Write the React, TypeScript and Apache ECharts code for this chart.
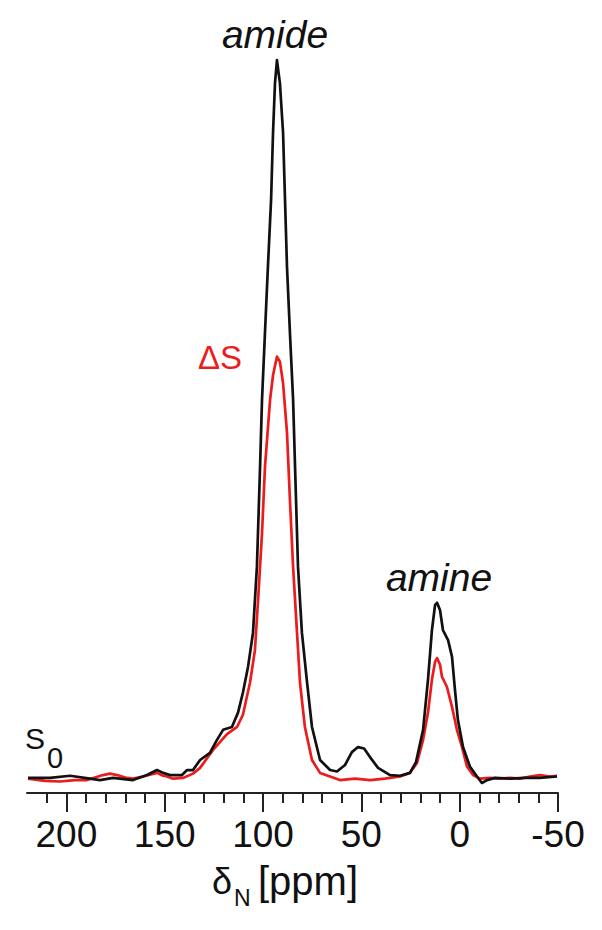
import React, { useEffect, useRef } from "react";
import * as echarts from "echarts";

// Chemical shift (ppm) and intensity (arb. units, amide peak of S0 = 100)
const S0_PPM = [219.5, 208.3, 198.1, 188.0, 182.9, 176.3, 166.1, 159.0, 153.9, 150.8, 147.3, 141.2, 138.6, 135.6, 132.0, 127.0, 123.4, 120.3, 115.8, 112.7, 110.2, 107.6, 105.1, 103.1, 101.5, 100.5, 99.0, 97.5, 95.9, 94.9, 93.9, 92.9, 91.4, 89.8, 88.8, 87.8, 86.3, 84.7, 83.7, 82.2, 80.2, 77.6, 75.1, 71.0, 65.9, 62.4, 58.3, 54.8, 51.7, 48.6, 45.6, 41.5, 35.4, 30.3, 25.3, 22.2, 18.6, 16.1, 14.1, 12.5, 11.5, 10.0, 8.5, 5.9, 3.9, 2.4, 0.9, -1.7, -5.2, -8.8, -11.3, -13.9, -18.0, -25.6, -33.2, -40.8, -49.5];
const S0_INT = [-0.3, -0.3, 0, -0.4, -0.6, -0.3, -0.6, 0.1, 0.8, 0.4, 0.1, 0.1, 0.8, 0.8, 2.2, 3.2, 5.0, 6.4, 6.8, 8.8, 11.6, 15.2, 19.9, 29.1, 43.0, 52.4, 61.7, 70.9, 80.2, 89.6, 96.5, 99.7, 96.5, 89.6, 80.2, 70.9, 61.7, 52.4, 43.0, 29.1, 19.9, 13.0, 6.8, 2.2, 0.8, 0.6, 1.5, 3.3, 4.0, 3.8, 2.6, 1.1, 0.1, 0, 0.4, 1.9, 6.4, 13.4, 20.3, 23.8, 24.1, 23.1, 20.3, 18.9, 16.6, 12.0, 7.8, 4.0, 1.3, -0.1, -1.0, -0.6, -0.3, -0.4, -0.3, -0.3, -0.1];

const DS_PPM = [219.5, 210.8, 203.2, 195.6, 189.5, 181.4, 177.8, 174.2, 169.2, 166.1, 161.0, 153.9, 150.8, 148.8, 145.8, 140.7, 135.6, 132.0, 125.4, 118.3, 113.2, 110.2, 106.6, 104.1, 102.5, 100.5, 99.0, 96.4, 94.9, 92.9, 91.4, 89.8, 87.8, 86.3, 84.7, 82.7, 81.2, 78.7, 75.1, 71.0, 65.9, 60.9, 53.2, 45.6, 38.0, 30.3, 25.3, 21.7, 18.6, 16.1, 14.1, 12.5, 11.5, 10.0, 9.0, 6.5, 3.9, 1.4, -1.2, -3.7, -6.8, -10.3, -15.4, -20.5, -25.6, -30.7, -35.8, -40.8, -45.9, -49.5];
const DS_INT = [-0.4, -0.7, -0.8, -0.6, -0.6, 0.1, 0.3, 0.1, -0.3, -0.4, -0.1, 0.4, 0, -0.1, -0.4, -0.3, 0.3, 1.1, 3.6, 5.8, 6.8, 8.5, 13.0, 17.5, 24.5, 33.8, 43.0, 52.4, 55.8, 58.4, 57.7, 54.7, 47.8, 38.4, 29.1, 19.9, 13.0, 6.8, 2.2, 0.4, -0.1, -0.6, -0.4, -0.6, -0.4, -0.1, 0.4, 1.8, 5.0, 8.8, 13.4, 15.9, 16.4, 15.5, 13.8, 12.4, 9.6, 6.4, 4.0, 1.3, 0.1, -0.4, -0.3, -0.4, -0.3, -0.4, -0.1, 0.1, -0.1, 0];

const TICK_LABELS = [200, 150, 100, 50, 0, -50];
const MINOR_TICKS = [210, 190, 180, 170, 160, 140, 130, 120, 110, 90, 80, 70, 60, 40, 30, 20, 10, -10, -20, -30, -40];

const FONT = "'Liberation Sans', Arial, Helvetica, sans-serif";
const BLACK = "#111111";
const RED = "#ec1c1c";

export default function App() {
  const ref = useRef<HTMLDivElement>(null);
  useEffect(() => {
    if (!ref.current) return;
    const chart = echarts.init(ref.current, undefined, { renderer: "svg" });
    const s0 = S0_PPM.map((p, i) => [p, S0_INT[i]]);
    const ds = DS_PPM.map((p, i) => [p, DS_INT[i]]);
    chart.setOption({
      animation: false,
      backgroundColor: "#ffffff",
      grid: { left: 27, right: 44, top: 58, bottom: 137, containLabel: false, outerBoundsMode: "none" },
      xAxis: [
        {
          type: "value",
          min: -50,
          max: 220,
          inverse: true,
          position: "bottom",
          axisLine: { show: true, onZero: false, lineStyle: { color: "#222", width: 2 } },
          axisTick: { show: true, customValues: TICK_LABELS, length: 19, lineStyle: { color: "#222", width: 2 } },
          axisLabel: { customValues: TICK_LABELS, fontSize: 37, color: BLACK, fontFamily: FONT, margin: 23 },
          splitLine: { show: false },
        },
        {
          type: "value",
          min: -50,
          max: 220,
          inverse: true,
          position: "bottom",
          axisLine: { show: false, onZero: false },
          axisTick: { show: true, customValues: MINOR_TICKS, length: 10, lineStyle: { color: "#222", width: 2 } },
          axisLabel: { show: false },
          splitLine: { show: false },
        },
      ],
      yAxis: { type: "value", min: -2.4, max: 100, show: false, splitLine: { show: false } },
      series: [
        {
          name: "ΔS",
          type: "line",
          xAxisIndex: 0,
          data: ds,
          showSymbol: false,
          lineStyle: { color: RED, width: 2.7, join: "round" },
          itemStyle: { color: RED },
        },
        {
          name: "S0",
          type: "line",
          xAxisIndex: 0,
          data: s0,
          showSymbol: false,
          lineStyle: { color: BLACK, width: 2.7, join: "round" },
          itemStyle: { color: BLACK },
        },
      ],
      graphic: [
        { type: "text", x: 275, y: 34, style: { text: "amide", font: `italic 39px ${FONT}`, fill: BLACK, align: "center", verticalAlign: "middle" } },
        { type: "text", x: 439, y: 577, style: { text: "amine", font: `italic 39px ${FONT}`, fill: BLACK, align: "center", verticalAlign: "middle" } },
        { type: "text", x: 220, y: 357, style: { text: "ΔS", font: `33px ${FONT}`, fill: RED, align: "center", verticalAlign: "middle" } },
        { type: "text", x: 25, y: 738, style: { text: "S", font: `30px ${FONT}`, fill: BLACK, align: "left", verticalAlign: "middle" } },
        { type: "text", x: 47, y: 758, style: { text: "0", font: `29px ${FONT}`, fill: BLACK, align: "left", verticalAlign: "middle" } },
        { type: "text", x: 212, y: 881, style: { text: "δ", font: `36px ${FONT}`, fill: BLACK, align: "left", verticalAlign: "middle" } },
        { type: "text", x: 234, y: 898, style: { text: "N", font: `23px ${FONT}`, fill: BLACK, align: "left", verticalAlign: "middle" } },
        { type: "text", x: 258, y: 881, style: { text: "[ppm]", font: `40px ${FONT}`, fill: BLACK, align: "left", verticalAlign: "middle" } },
      ],
    });
    return () => chart.dispose();
  }, []);
  return (
    <div
      ref={ref}
      style={{ position: "fixed", left: 0, top: 0, width: 602, height: 930, background: "#fff" }}
    />
  );
}
